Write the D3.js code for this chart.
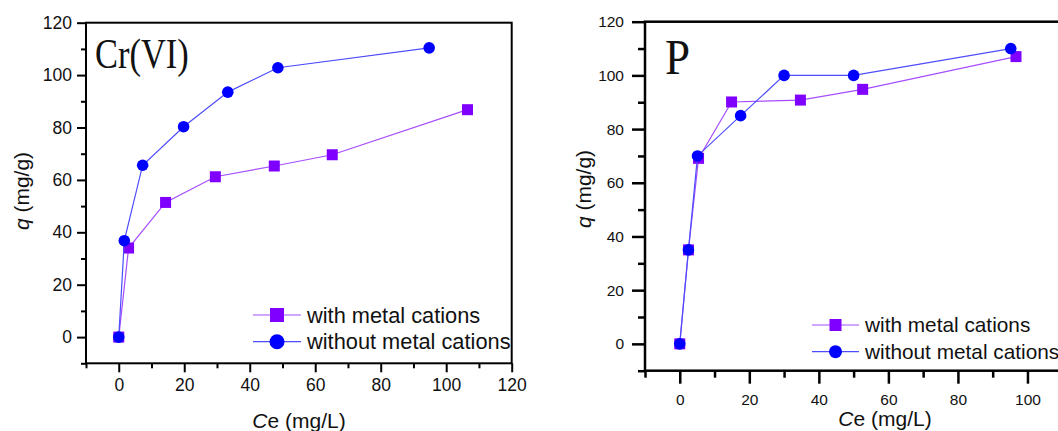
<html>
<head>
<script src="https://cdn.jsdelivr.net/npm/d3@7"></script>
<style>
    body { margin: 0; background: white; font-family: "Liberation Sans", Arial, sans-serif; }
    svg { display: block; }
</style>
</head>
<body>
<svg id="chart" width="1058" height="431"></svg>
<script>
    // Cr(VI) panel
    let crCeWith = [0, 3, 14.3, 29.5, 47.5, 65.2, 106.5];
    let crQWith = [0, 34, 51.4, 61.2, 65.3, 69.6, 86.8];
    let crCeWithout = [0, 1.7, 7.3, 19.8, 33.3, 48.6, 94.8];
    let crQWithout = [0, 36.8, 65.6, 80.3, 93.5, 102.8, 110.4];

    // P panel
    let pCeWith = [0, 2.5, 5.4, 14.9, 34.7, 52.6, 96.7];
    let pQWith = [0, 35, 69.1, 90.1, 90.8, 94.8, 107];
    let pCeWithout = [0, 2.5, 5.1, 17.5, 30, 50, 95.2];
    let pQWithout = [0, 35, 70, 85, 100, 100, 110];

    let majorTicks = [0, 20, 40, 60, 80, 100, 120];
    let minorTicks = [-10, 10, 30, 50, 70, 90, 110];
    let seriesNames = ["with metal cations", "without metal cations"];

    const purple = "#8000ff", purpleLine = "#a64dff";
    const blue = "#0000ff", blueLine = "#4d4dff";

    let svg = d3.select("#chart");

    function zip(xs, ys) {
        return xs.map((x, i) => ({x: x, y: ys[i]}));
    }

    function drawPanel(cfg) {
        let g = svg.append("g");
        let x = d3.scaleLinear().domain([-10, 120]).range([cfg.left, cfg.right]);
        let y = d3.scaleLinear().domain([-10, 120]).range([cfg.bottom, cfg.top]);

        // minor ticks
        g.append("g").attr("transform", "translate(0," + cfg.bottom + ")")
            .call(d3.axisBottom(x).tickValues(minorTicks).tickSize(cfg.minor).tickFormat("").tickSizeOuter(0))
            .call(a => a.select(".domain").remove());
        g.append("g").attr("transform", "translate(" + cfg.left + ",0)")
            .call(d3.axisLeft(y).tickValues(minorTicks).tickSize(cfg.minor).tickFormat("").tickSizeOuter(0))
            .call(a => a.select(".domain").remove());

        // major ticks + labels
        let xa = g.append("g").attr("transform", "translate(0," + cfg.bottom + ")")
            .call(d3.axisBottom(x).tickValues(majorTicks).tickSize(cfg.tick).tickPadding(cfg.xPad).tickSizeOuter(0));
        let ya = g.append("g").attr("transform", "translate(" + cfg.left + ",0)")
            .call(d3.axisLeft(y).tickValues(majorTicks).tickSize(cfg.tick).tickPadding(cfg.yPad).tickSizeOuter(0));
        [xa, ya].forEach(a => {
            a.select(".domain").remove();
            a.selectAll("text").attr("fill", "#111").style("font-size", cfg.tickFont + "px")
                .style("font-family", "'Liberation Sans', Arial, sans-serif");
        });
        // labels falling outside the picture are not drawn
        xa.selectAll("g.tick").filter(d => x(d) > 1058).select("text").remove();
        g.selectAll("g.tick line").attr("stroke", "#000").attr("stroke-width", cfg.stroke);

        // frame
        g.append("rect")
            .attr("x", x(-10)).attr("y", y(120))
            .attr("width", x(120) - x(-10)).attr("height", y(-10) - y(120))
            .attr("fill", "none").attr("stroke", "#000").attr("stroke-width", cfg.stroke);

        let line = d3.line().x(d => x(d.x)).y(d => y(d.y));
        let w = zip(cfg.ceWith, cfg.qWith);
        let wo = zip(cfg.ceWithout, cfg.qWithout);

        g.append("path").datum(w).attr("d", line)
            .attr("fill", "none").attr("stroke", purpleLine).attr("stroke-width", 1.2);
        g.selectAll(".sq").data(w).enter().append("rect")
            .attr("x", d => x(d.x) - 5.5).attr("y", d => y(d.y) - 5.5)
            .attr("width", 11).attr("height", 11).attr("fill", purple);

        g.append("path").datum(wo).attr("d", line)
            .attr("fill", "none").attr("stroke", blueLine).attr("stroke-width", 1.2);
        g.selectAll(".ci").data(wo).enter().append("circle")
            .attr("cx", d => x(d.x)).attr("cy", d => y(d.y))
            .attr("r", 5.8).attr("fill", blue);

        // panel label
        g.append("text")
            .attr("transform", "translate(" + cfg.labelX + "," + cfg.labelY + ") scale(" + cfg.labelSX + ",1)")
            .style("font-family", "'Liberation Serif', 'Times New Roman', serif")
            .style("font-size", cfg.labelFont + "px").attr("fill", "#111")
            .text(cfg.label);

        // axis titles
        let xt = g.append("text").attr("x", cfg.xTitleX).attr("y", cfg.xTitleY)
            .attr("text-anchor", "middle").style("font-size", "21px").attr("fill", "#111");
        xt.append("tspan").style("font-style", "italic").text("C");
        xt.append("tspan").text("e (mg/L)");

        let yt = g.append("text")
            .attr("transform", "translate(" + cfg.yTitleX + "," + cfg.yTitleY + ") rotate(-90)")
            .attr("text-anchor", "middle").style("font-size", "21px").attr("fill", "#111");
        yt.append("tspan").style("font-style", "italic").text("q");
        yt.append("tspan").text(" (mg/g)");

        // legend
        let lg = g.append("g").attr("transform", "translate(" + cfg.legX + "," + cfg.legY + ")");
        seriesNames.forEach((name, i) => {
            let row = lg.append("g").attr("transform", "translate(0," + (i * cfg.legGap) + ")");
            row.append("line").attr("x1", 0).attr("x2", cfg.legLine).attr("y1", 0).attr("y2", 0)
                .attr("stroke", i === 0 ? purpleLine : blueLine).attr("stroke-width", 1.2);
            if (i === 0) {
                row.append("rect").attr("x", cfg.legLine / 2 - cfg.legMark / 2).attr("y", -cfg.legMark / 2)
                    .attr("width", cfg.legMark).attr("height", cfg.legMark).attr("fill", purple);
            } else {
                row.append("circle").attr("cx", cfg.legLine / 2).attr("cy", 0)
                    .attr("r", cfg.legMark / 2 + 0.5).attr("fill", blue);
            }
            row.append("text").attr("x", cfg.legLine + 6).attr("y", 0).attr("dy", "0.35em")
                .style("font-size", cfg.legFont + "px").attr("fill", "#111").text(name);
        });
    }

    drawPanel({
        left: 86, right: 511.7, top: 22.7, bottom: 363.3,
        tick: 9, minor: 5, stroke: 2, tickFont: 17.5, xPad: 6, yPad: 5,
        ceWith: crCeWith, qWith: crQWith, ceWithout: crCeWithout, qWithout: crQWithout,
        label: "Cr(VI)", labelX: 95, labelY: 68, labelFont: 42, labelSX: 0.82,
        xTitleX: 299, xTitleY: 428, yTitleX: 29, yTitleY: 191,
        legX: 253, legY: 315, legGap: 26.7, legLine: 48, legMark: 14, legFont: 21.8
    });

    drawPanel({
        left: 645, right: 1097, top: 21.7, bottom: 370.7,
        tick: 13, minor: 7, stroke: 2.5, tickFont: 15.5, xPad: 10, yPad: 8,
        ceWith: pCeWith, qWith: pQWith, ceWithout: pCeWithout, qWithout: pQWithout,
        label: "P", labelX: 665, labelY: 74, labelFont: 50, labelSX: 0.9,
        xTitleX: 885, xTitleY: 426, yTitleX: 591, yTitleY: 189,
        legX: 812, legY: 325, legGap: 26.7, legLine: 47, legMark: 12, legFont: 20.8
    });
</script>
</body>
</html>
